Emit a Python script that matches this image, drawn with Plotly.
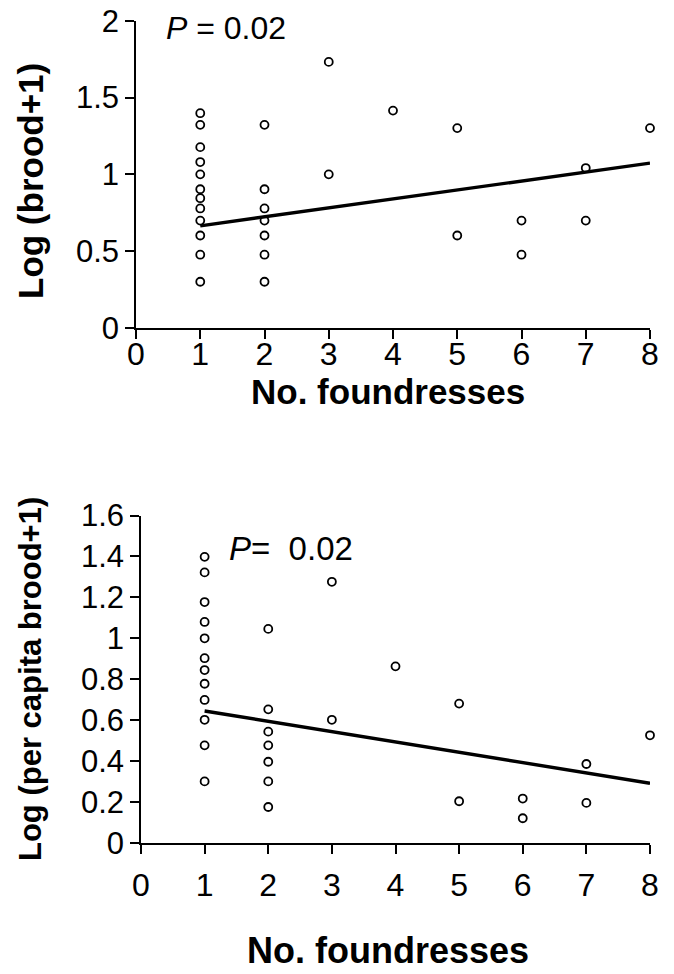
import plotly.graph_objects as go

# ---------------- data ----------------
foundresses_top = [1]*12 + [2]*7 + [3]*2 + [4] + [5]*2 + [6]*2 + [7]*2 + [8]
log_brood = [1.398, 1.322, 1.177, 1.080, 1.000, 0.903, 0.845, 0.778, 0.699, 0.602, 0.477, 0.301,
             1.322, 0.903, 0.778, 0.699, 0.602, 0.477, 0.301,
             1.732, 1.000,
             1.415,
             1.301, 0.602,
             0.699, 0.477,
             1.041, 0.699,
             1.301]
trend_top_x = [1, 8]
trend_top_y = [0.665, 1.073]

foundresses_bot = [1]*12 + [2]*7 + [3]*2 + [4] + [5]*2 + [6]*2 + [7]*2 + [8]
log_percap = [1.398, 1.322, 1.177, 1.080, 1.000, 0.903, 0.845, 0.778, 0.699, 0.602, 0.477, 0.301,
              1.046, 0.653, 0.544, 0.477, 0.397, 0.301, 0.176,
              1.276, 0.602,
              0.863,
              0.681, 0.204,
              0.217, 0.121,
              0.386, 0.196,
              0.526]
trend_bot_x = [1, 8]
trend_bot_y = [0.645, 0.292]

x_ticks = [0, 1, 2, 3, 4, 5, 6, 7, 8]
y_ticks_top = [0, 0.5, 1, 1.5, 2]
y_ticks_bot = [0, 0.2, 0.4, 0.6, 0.8, 1, 1.2, 1.4, 1.6]

W, H = 674, 974
FONT = "Liberation Sans, Arial, sans-serif"

def dom_x(a, b):
    return [a / W, b / W]

def dom_y(top, bottom):
    return [(H - bottom) / H, (H - top) / H]

marker = dict(symbol="circle-open", size=8, color="black", line=dict(width=1.8, color="black"))

fig = go.Figure()
fig.add_trace(go.Scatter(x=foundresses_top, y=log_brood, mode="markers", marker=marker,
                         xaxis="x", yaxis="y", showlegend=False, cliponaxis=False))
fig.add_trace(go.Scatter(x=trend_top_x, y=trend_top_y, mode="lines",
                         line=dict(color="black", width=3.4), xaxis="x", yaxis="y", showlegend=False))
fig.add_trace(go.Scatter(x=foundresses_bot, y=log_percap, mode="markers", marker=marker,
                         xaxis="x2", yaxis="y2", showlegend=False, cliponaxis=False))
fig.add_trace(go.Scatter(x=trend_bot_x, y=trend_bot_y, mode="lines",
                         line=dict(color="black", width=3.4), xaxis="x2", yaxis="y2", showlegend=False))

axis_common = dict(showgrid=False, zeroline=False, showline=True, linecolor="black", linewidth=1.5,
                   ticks="outside", ticklen=9, tickwidth=1.5, tickcolor="black", automargin=False)
tick_font = dict(family=FONT, size=32, color="black")

fig.update_layout(
    width=W, height=H,
    margin=dict(l=0, r=0, t=0, b=0, pad=0, autoexpand=False),
    paper_bgcolor="white", plot_bgcolor="white",
    xaxis=dict(domain=dom_x(136, 650), range=[0, 8], tickvals=x_ticks, anchor="y",
               tickfont=tick_font, ticklabelstandoff=-12, **axis_common),
    yaxis=dict(domain=dom_y(20.7, 328), range=[0, 2], tickvals=y_ticks_top,
               ticktext=[("%g" % v) for v in y_ticks_top], anchor="x",
               tickfont=dict(family=FONT, size=31, color="black"), **axis_common),
    xaxis2=dict(domain=dom_x(141, 650), range=[0, 8], tickvals=x_ticks, anchor="y2",
                tickfont=tick_font, ticklabelstandoff=4, **axis_common),
    yaxis2=dict(domain=dom_y(515.5, 843), range=[0, 1.6], tickvals=y_ticks_bot,
                ticktext=[("%g" % v) for v in y_ticks_bot], anchor="x2",
                tickfont=dict(family=FONT, size=31, color="black"), **axis_common),
)

ann_font = dict(family=FONT, size=32, color="black")
fig.add_annotation(x=165 / W, y=(H - 28) / H, xref="paper", yref="paper", xanchor="left", yanchor="middle",
                   text="<i>P</i> = 0.02", showarrow=False, font=ann_font, borderpad=0)
fig.add_annotation(x=228 / W, y=(H - 548) / H, xref="paper", yref="paper", xanchor="left", yanchor="middle",
                   text="<i>P</i>=&nbsp; 0.02", showarrow=False, borderpad=0,
                   font=dict(family=FONT, size=33, color="black"))
fig.add_annotation(x=388 / W, y=(H - 391) / H, xref="paper", yref="paper", xanchor="center", yanchor="middle",
                   text="<b>No. foundresses</b>", showarrow=False, borderpad=0,
                   font=dict(family=FONT, size=35, color="black"))
fig.add_annotation(x=388 / W, y=(H - 950) / H, xref="paper", yref="paper", xanchor="center", yanchor="middle",
                   text="<b>No. foundresses</b>", showarrow=False, borderpad=0,
                   font=dict(family=FONT, size=36, color="black"))
fig.add_annotation(x=31 / W, y=(H - 181) / H, xref="paper", yref="paper", xanchor="center", yanchor="middle",
                   text="<b>Log (brood+1)</b>", textangle=-90, showarrow=False, borderpad=0,
                   font=dict(family=FONT, size=35, color="black"))
fig.add_annotation(x=30 / W, y=(H - 679) / H, xref="paper", yref="paper", xanchor="center", yanchor="middle",
                   text="<b>Log (per capita brood+1)</b>", textangle=-90, showarrow=False, borderpad=0,
                   font=dict(family=FONT, size=31, color="black"))

fig.write_html("out.html")
